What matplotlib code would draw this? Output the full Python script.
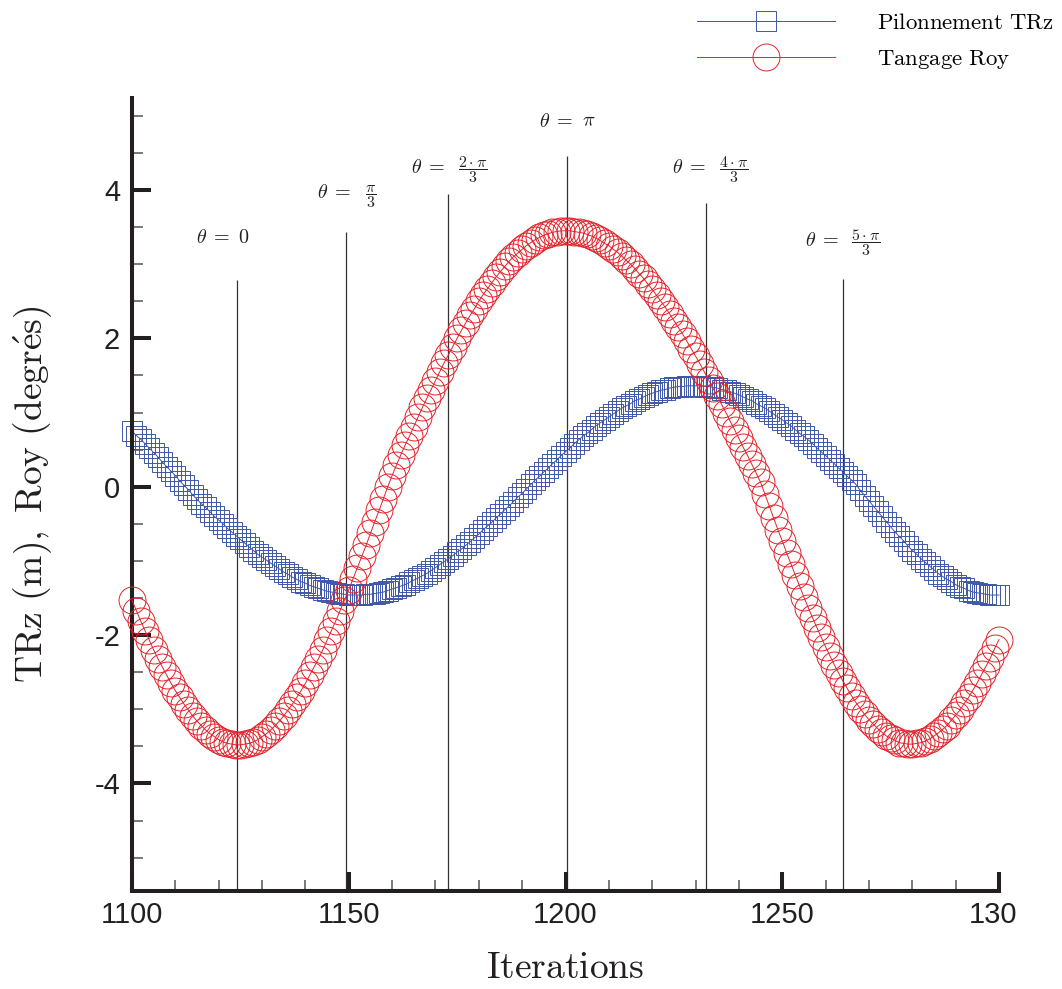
import matplotlib
matplotlib.use('Agg')
import matplotlib.pyplot as plt
from matplotlib.ticker import MultipleLocator, FixedLocator, FixedFormatter
from matplotlib.transforms import ScaledTranslation

plt.rcParams['font.family'] = ['Liberation Sans', 'DejaVu Sans']
plt.rcParams['mathtext.fontset'] = 'cm'
plt.rcParams['axes.unicode_minus'] = False

# donnees (une valeur par iteration, 1100 -> 1300)
iterations = list(range(1100, 1301))

pilonnement_trz = [
    0.75, 0.69, 0.64, 0.58, 0.52, 0.46, 0.40, 0.33, 0.27, 0.21,
    0.15, 0.08, 0.02, -0.04, -0.11, -0.17, -0.23, -0.28, -0.34, -0.40,
    -0.45, -0.50, -0.56, -0.61, -0.66, -0.71, -0.76, -0.81, -0.86, -0.91,
    -0.95, -0.99, -1.03, -1.07, -1.11, -1.15, -1.18, -1.22, -1.25, -1.28,
    -1.30, -1.33, -1.35, -1.37, -1.39, -1.41, -1.42, -1.43, -1.44, -1.45,
    -1.46, -1.46, -1.46, -1.46, -1.45, -1.45, -1.44, -1.43, -1.42, -1.40,
    -1.38, -1.36, -1.34, -1.32, -1.29, -1.26, -1.23, -1.20, -1.17, -1.13,
    -1.09, -1.05, -1.01, -0.97, -0.93, -0.88, -0.84, -0.79, -0.74, -0.69,
    -0.64, -0.58, -0.53, -0.48, -0.42, -0.37, -0.31, -0.26, -0.20, -0.14,
    -0.09, -0.03, 0.03, 0.09, 0.14, 0.20, 0.25, 0.31, 0.36, 0.42,
    0.47, 0.52, 0.58, 0.63, 0.68, 0.72, 0.77, 0.82, 0.86, 0.90,
    0.94, 0.98, 1.02, 1.06, 1.09, 1.12, 1.16, 1.18, 1.21, 1.24,
    1.26, 1.28, 1.30, 1.31, 1.33, 1.34, 1.35, 1.35, 1.36, 1.36,
    1.36, 1.36, 1.35, 1.35, 1.34, 1.33, 1.31, 1.30, 1.28, 1.26,
    1.24, 1.21, 1.18, 1.16, 1.12, 1.09, 1.06, 1.02, 0.98, 0.94,
    0.90, 0.86, 0.82, 0.77, 0.72, 0.68, 0.63, 0.58, 0.52, 0.47,
    0.42, 0.36, 0.31, 0.25, 0.20, 0.14, 0.09, 0.03, -0.05, -0.12,
    -0.19, -0.26, -0.33, -0.40, -0.47, -0.54, -0.61, -0.67, -0.73, -0.80,
    -0.86, -0.91, -0.97, -1.02, -1.07, -1.12, -1.17, -1.21, -1.25, -1.28,
    -1.32, -1.35, -1.37, -1.40, -1.42, -1.43, -1.44, -1.45, -1.46, -1.46,
    -1.46,
]

tangage_roy = [
    -1.53, -1.67, -1.81, -1.94, -2.07, -2.20, -2.32, -2.43, -2.54, -2.65,
    -2.75, -2.84, -2.93, -3.01, -3.09, -3.16, -3.22, -3.28, -3.33, -3.37,
    -3.41, -3.44, -3.46, -3.47, -3.48, -3.48, -3.47, -3.46, -3.44, -3.41,
    -3.37, -3.33, -3.28, -3.22, -3.16, -3.09, -3.01, -2.93, -2.84, -2.75,
    -2.65, -2.54, -2.43, -2.32, -2.20, -2.07, -1.94, -1.81, -1.67, -1.53,
    -1.39, -1.24, -1.09, -0.94, -0.79, -0.63, -0.47, -0.32, -0.16, 0.00,
    0.15, 0.29, 0.43, 0.56, 0.68, 0.81, 0.94, 1.07, 1.19, 1.31,
    1.43, 1.55, 1.67, 1.78, 1.89, 2.00, 2.11, 2.21, 2.31, 2.40,
    2.50, 2.59, 2.67, 2.75, 2.83, 2.90, 2.97, 3.04, 3.10, 3.15,
    3.20, 3.25, 3.29, 3.33, 3.36, 3.39, 3.41, 3.43, 3.44, 3.45,
    3.45, 3.45, 3.44, 3.43, 3.42, 3.40, 3.38, 3.35, 3.32, 3.28,
    3.25, 3.20, 3.16, 3.11, 3.05, 3.00, 2.94, 2.87, 2.81, 2.73,
    2.66, 2.58, 2.50, 2.42, 2.33, 2.24, 2.15, 2.06, 1.96, 1.86,
    1.76, 1.66, 1.55, 1.44, 1.33, 1.22, 1.11, 1.00, 0.88, 0.77,
    0.65, 0.53, 0.42, 0.30, 0.18, 0.06, -0.10, -0.26, -0.42, -0.58,
    -0.73, -0.89, -1.04, -1.19, -1.34, -1.49, -1.63, -1.77, -1.90, -2.03,
    -2.16, -2.28, -2.40, -2.51, -2.62, -2.72, -2.82, -2.91, -2.99, -3.07,
    -3.14, -3.20, -3.26, -3.31, -3.36, -3.39, -3.42, -3.45, -3.46, -3.47,
    -3.47, -3.46, -3.45, -3.43, -3.40, -3.36, -3.32, -3.27, -3.22, -3.15,
    -3.08, -3.01, -2.92, -2.84, -2.74, -2.64, -2.53, -2.42, -2.31, -2.18,
    -2.06,
]

# reperes de phase : lignes verticales et libelles theta
theta_x = [1124.2, 1149.4, 1173.0, 1200.3, 1232.5, 1263.9]
theta_haut = [2.79, 3.44, 3.94, 4.46, 3.82, 2.80]
theta_egal_x = [1122.8, 1150.7, 1172.2, 1201.8, 1232.4, 1263.2]   # fin du "theta ="
theta_valeur_x = [1124.5, 1153.8, 1175.2, 1203.7, 1235.3, 1265.8]  # debut de la valeur
theta_base_y = [3.28, 3.89, 4.225, 4.854, 4.225, 3.245]
theta_valeurs = [
    r'$0$',
    r'$\dfrac{\pi}{3}$',
    r'$\dfrac{2\cdot\pi}{3}$',
    r'$\pi$',
    r'$\dfrac{4\cdot\pi}{3}$',
    r'$\dfrac{5\cdot\pi}{3}$',
]
theta_tailles = [14.5, 11.5, 11.5, 14.5, 11.5, 11.5]

xticks = [1100, 1150, 1200, 1250, 1300]
xtick_labels = ['1100', '1150', '1200', '1250', '130']
yticks = [-4, -2, 0, 2, 4]
ytick_labels = ['-4', '-2', '0', '2', '4']

bleu = '#3f55a8'
rouge = '#e2232c'
noir = '#231f20'

fig = plt.figure(figsize=(10.62, 9.89), dpi=100)
ax = fig.add_axes([132 / 1062, 1 - 891 / 989, (999 - 132) / 1062, (891 - 98) / 989])

ymin, ymax = -5.45, 5.24

ax.vlines(theta_x, ymin, theta_haut, colors='#333333', linewidth=0.9, zorder=1)
for xe, xv, yb, val, taille in zip(theta_egal_x, theta_valeur_x, theta_base_y,
                                   theta_valeurs, theta_tailles):
    ax.text(xe, yb, r'$\theta\;=$', ha='right', va='baseline', fontsize=14.5, color='#222222')
    ax.text(xv, yb, val, ha='left', va='baseline', fontsize=taille, color='#222222')

l1, = ax.plot(iterations, pilonnement_trz, color=bleu, linewidth=0.7,
              marker='s', markersize=14.4, markerfacecolor='none',
              markeredgecolor=bleu, markeredgewidth=0.7, clip_on=False, zorder=2)
l2, = ax.plot(iterations, tangage_roy, color=rouge, linewidth=0.7,
              marker='o', markersize=19.4, markerfacecolor='none',
              markeredgecolor=rouge, markeredgewidth=0.7, clip_on=False, zorder=3)

ax.set_xlim(1100, 1300)
ax.set_ylim(ymin, ymax)

ax.xaxis.set_major_locator(FixedLocator(xticks))
ax.xaxis.set_major_formatter(FixedFormatter(xtick_labels))
ax.xaxis.set_minor_locator(MultipleLocator(10))
ax.yaxis.set_major_locator(FixedLocator(yticks))
ax.yaxis.set_major_formatter(FixedFormatter(ytick_labels))
ax.yaxis.set_minor_locator(MultipleLocator(0.5))

for s in ['top', 'right']:
    ax.spines[s].set_visible(False)
for s in ['left', 'bottom']:
    ax.spines[s].set_linewidth(2.9)
    ax.spines[s].set_color(noir)

ax.tick_params(which='major', direction='in', length=14, width=2.9,
               color=noir, labelsize=21, labelcolor=noir)
ax.tick_params(axis='x', which='major', pad=7.5)
ax.tick_params(axis='y', which='major', pad=8.5)
ax.tick_params(which='minor', direction='in', length=8, width=1.1, color='#555555')

ax.set_xlabel(r'$\mathrm{Iterations}$', fontsize=27, color=noir)
ax.set_ylabel(r'$\mathrm{TRz\ (m),\ Roy\ (degr\acute{e}s)}$', fontsize=27, color=noir)
ax.xaxis.set_label_coords(0.5, -0.075)
ax.yaxis.set_label_coords(-0.0897, 0.5)

# le dernier libelle est decale comme sur l'original
dernier = ax.get_xticklabels()[-1]
dernier.set_transform(dernier.get_transform() + ScaledTranslation(-0.06, 0, fig.dpi_scale_trans))

fig.legend([l1, l2], [r'$\mathrm{Pilonnement\ TRz}$', r'$\mathrm{Tangage\ Roy}$'],
           loc='upper left', bbox_to_anchor=(697 / 1062, 1 - 11 / 989),
           frameon=False, fontsize=16.4, handlelength=6.05, handletextpad=1.84,
           labelspacing=0.55, borderpad=0, borderaxespad=0, numpoints=1)

fig.savefig('out.png', dpi=100)
